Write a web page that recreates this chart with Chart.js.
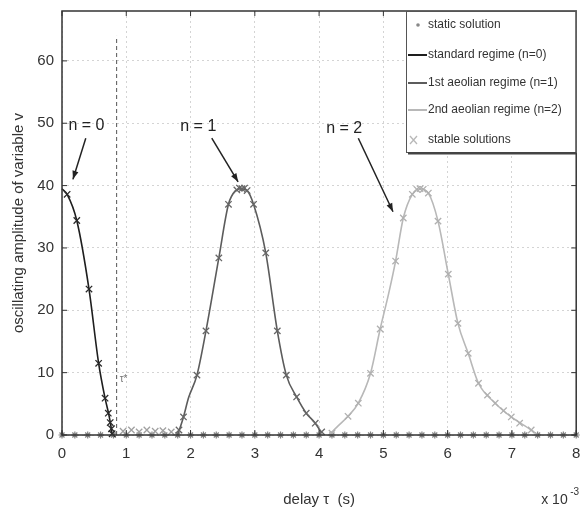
<!DOCTYPE html>
<html>
<head>
<meta charset="utf-8">
<script src="https://cdn.jsdelivr.net/npm/chart.js@4"></script>
<style>
  html, body { margin: 0; padding: 0; background: #fff; overflow: hidden; }
  #wrap { width: 580px; height: 510px; overflow: hidden; }
</style>
</head>
<body>
<div id="wrap"><canvas id="chart" width="582" height="510"></canvas></div>
<script>
'use strict';

// ── Data ─────────────────────────────────────────────────────
const xTicks = [0, 1, 2, 3, 4, 5, 6, 7, 8];
const yTicks = [0, 10, 20, 30, 40, 50, 60];

// static solution (v = 0) along the whole delay range
const staticX = [0, 0.2, 0.4, 0.6, 0.8, 1, 1.2, 1.4, 1.6, 1.8, 2, 2.2, 2.4, 2.6, 2.8, 3, 3.2, 3.4, 3.6, 3.8, 4,
    4.2, 4.4, 4.6, 4.8, 5, 5.2, 5.4, 5.6, 5.8, 6, 6.2, 6.4, 6.6, 6.8, 7, 7.2, 7.4, 7.6, 7.8, 8];

// standard regime (n=0)
const n0X = [0, 0.08, 0.23, 0.42, 0.57, 0.67, 0.73, 0.76, 0.78];
const n0Y = [39.5, 38.6, 34.4, 23.4, 11.5, 5.9, 3.2, 1.5, 0];

// 1st aeolian regime (n=1)
const n1X = [1.80, 1.89, 1.97, 2.10, 2.24, 2.44, 2.59, 2.70, 2.78, 2.88, 2.98, 3.17, 3.35, 3.49, 3.65, 3.80, 3.94, 4.04];
const n1Y = [0, 2.9, 6.0, 9.6, 16.7, 28.4, 37.0, 39.2, 39.5, 39.2, 37.0, 29.2, 16.7, 9.6, 6.1, 3.5, 1.9, 0.3];

// 2nd aeolian regime (n=2)
const n2X = [4.15, 4.30, 4.45, 4.61, 4.80, 4.95, 5.08, 5.19, 5.31, 5.45, 5.57, 5.70, 5.85, 6.01, 6.16, 6.32, 6.48, 6.74, 6.99, 7.30, 7.40];
const n2Y = [0, 1.5, 3.0, 5.1, 9.9, 17.0, 22.6, 27.9, 34.8, 38.6, 39.5, 38.8, 34.3, 25.8, 17.9, 13.1, 8.3, 5.1, 2.9, 0.8, 0];

// stable solutions (crosses)
const stable0X = [0.08, 0.23, 0.42, 0.57, 0.67, 0.72, 0.75, 0.77, 0.78];
const stable0Y = [38.6, 34.4, 23.4, 11.5, 5.9, 3.5, 2.0, 1.0, 0.2];
const stableZeroX = [0.95, 1.08, 1.2, 1.32, 1.45, 1.57, 1.7];
const stableZeroY = [0.6, 0.8, 0.5, 0.8, 0.6, 0.7, 0.5];
const stable1X = [1.82, 1.89, 2.10, 2.24, 2.44, 2.59, 2.72, 2.76, 2.80, 2.84, 2.88, 2.98, 3.17, 3.35, 3.49, 3.65, 3.80, 3.94, 4.04];
const stable1Y = [0.8, 2.9, 9.6, 16.7, 28.4, 37.0, 39.3, 39.6, 39.5, 39.6, 39.2, 37.0, 29.2, 16.7, 9.6, 6.1, 3.5, 1.9, 0.5];
const stable2X = [4.20, 4.45, 4.61, 4.80, 4.95, 5.19, 5.31, 5.45, 5.52, 5.57, 5.62, 5.70, 5.85, 6.01, 6.16, 6.32, 6.48, 6.62, 6.74, 6.87, 6.99, 7.12, 7.30];
const stable2Y = [0.3, 3.0, 5.1, 9.9, 17.0, 27.9, 34.8, 38.6, 39.4, 39.5, 39.4, 38.8, 34.3, 25.8, 17.9, 13.1, 8.3, 6.4, 5.1, 3.9, 2.9, 1.9, 0.8];

const legendLabels = ['static solution', 'standard regime (n=0)', '1st aeolian regime (n=1)', '2nd aeolian regime (n=2)', 'stable solutions'];

// annotations, in data units
const notes = [
    { text: 'n = 0', x: 0.38, y: 49.6, from: [0.37, 47.6], to: [0.17, 41.0] },
    { text: 'n = 1', x: 2.12, y: 49.5, from: [2.33, 47.6], to: [2.74, 40.6] },
    { text: 'n = 2', x: 4.39, y: 49.2, from: [4.61, 47.6], to: [5.15, 35.8] },
];
const tauStar = 0.85;

// ── Helpers ──────────────────────────────────────────────────
const pts = (xs, ys) => xs.map((x, i) => ({ x: x, y: ys[i] }));
const FONT = "'Liberation Sans', Arial, sans-serif";
const C_N0 = '#1e1e1e';
const C_N1 = '#5c5c5c';
const C_N2 = '#b8b8b8';

function lineSet(label, data, color) {
    return {
        label: label,
        data: data,
        showLine: true,
        borderColor: color,
        borderWidth: 1.6,
        pointRadius: 0,
        cubicInterpolationMode: 'monotone',
        clip: false,
    };
}

function crossSet(label, data, color) {
    return {
        label: label,
        data: data,
        showLine: false,
        pointStyle: 'crossRot',
        pointRadius: 4.5,
        pointBorderColor: color,
        pointBorderWidth: 1.3,
        clip: false,
    };
}

// ── Decorations: box, inward ticks, annotations, legend ──────
const decor = {
    id: 'decor',
    afterDatasetsDraw(chart) {
        const { ctx, chartArea: a, scales: { x, y } } = chart;
        ctx.save();

        // dashed tau* line
        ctx.strokeStyle = '#555';
        ctx.lineWidth = 1;
        ctx.setLineDash([4, 3]);
        ctx.beginPath();
        ctx.moveTo(x.getPixelForValue(tauStar), y.getPixelForValue(0));
        ctx.lineTo(x.getPixelForValue(tauStar), y.getPixelForValue(64));
        ctx.stroke();
        ctx.setLineDash([]);
        ctx.fillStyle = '#777';
        ctx.font = '10px ' + FONT;
        ctx.textAlign = 'left';
        ctx.textBaseline = 'middle';
        ctx.fillText('τ*', x.getPixelForValue(tauStar) + 3, y.getPixelForValue(9));

        // axes box
        ctx.strokeStyle = '#333';
        ctx.lineWidth = 1.5;
        ctx.strokeRect(a.left, a.top, a.right - a.left, a.bottom - a.top);

        // inward ticks
        ctx.lineWidth = 1;
        ctx.beginPath();
        xTicks.forEach(v => {
            const px = x.getPixelForValue(v);
            ctx.moveTo(px, a.bottom); ctx.lineTo(px, a.bottom - 5);
            ctx.moveTo(px, a.top); ctx.lineTo(px, a.top + 5);
        });
        yTicks.forEach(v => {
            const py = y.getPixelForValue(v);
            ctx.moveTo(a.left, py); ctx.lineTo(a.left + 5, py);
            ctx.moveTo(a.right, py); ctx.lineTo(a.right - 5, py);
        });
        ctx.stroke();

        // n = ... labels with arrows
        ctx.fillStyle = '#222';
        ctx.strokeStyle = '#222';
        ctx.font = '16px ' + FONT;
        ctx.textAlign = 'center';
        notes.forEach(n => {
            ctx.fillText(n.text, x.getPixelForValue(n.x), y.getPixelForValue(n.y));
            const x1 = x.getPixelForValue(n.from[0]), y1 = y.getPixelForValue(n.from[1]);
            const x2 = x.getPixelForValue(n.to[0]), y2 = y.getPixelForValue(n.to[1]);
            const ang = Math.atan2(y2 - y1, x2 - x1);
            ctx.lineWidth = 1.5;
            ctx.beginPath();
            ctx.moveTo(x1, y1);
            ctx.lineTo(x2, y2);
            ctx.stroke();
            ctx.beginPath();
            ctx.moveTo(x2, y2);
            ctx.lineTo(x2 - 9 * Math.cos(ang - 0.35), y2 - 9 * Math.sin(ang - 0.35));
            ctx.lineTo(x2 - 9 * Math.cos(ang + 0.35), y2 - 9 * Math.sin(ang + 0.35));
            ctx.closePath();
            ctx.fill();
        });

        // exponent label
        ctx.fillStyle = '#333';
        ctx.font = '14px ' + FONT;
        ctx.textAlign = 'left';
        ctx.fillText('x 10', a.right - 35, a.bottom + 65);
        ctx.font = '10px ' + FONT;
        ctx.fillText('-3', a.right - 6, a.bottom + 57);

        // legend
        const lx = 406, ly = a.top, lw = a.right - lx, lh = 142;
        ctx.fillStyle = '#fff';
        ctx.fillRect(lx, ly, lw, lh);
        ctx.strokeStyle = '#555';
        ctx.lineWidth = 1;
        ctx.strokeRect(lx + 0.5, ly + 0.5, lw - 1, lh - 1);
        ctx.fillStyle = '#444';
        ctx.fillRect(lx + 2, ly + lh - 1, lw - 2, 2.5);

        const rows = [25, 55, 83, 110, 140];
        const sample = [null, C_N0, C_N1, C_N2, null];
        ctx.font = '12px ' + FONT;
        ctx.textBaseline = 'middle';
        legendLabels.forEach((t, i) => {
            const ry = rows[i];
            if (sample[i]) {
                ctx.strokeStyle = sample[i];
                ctx.lineWidth = 2;
                ctx.beginPath();
                ctx.moveTo(lx + 2, ry); ctx.lineTo(lx + 21, ry);
                ctx.stroke();
            } else if (i === 0) {
                ctx.fillStyle = '#888';
                ctx.beginPath();
                ctx.arc(lx + 12, ry, 1.8, 0, Math.PI * 2);
                ctx.fill();
            } else {
                ctx.strokeStyle = C_N2;
                ctx.lineWidth = 1.3;
                ctx.beginPath();
                ctx.moveTo(lx + 4, ry - 4); ctx.lineTo(lx + 11, ry + 4);
                ctx.moveTo(lx + 11, ry - 4); ctx.lineTo(lx + 4, ry + 4);
                ctx.stroke();
            }
            ctx.fillStyle = '#333';
            ctx.fillText(t, lx + 22, ry);
        });

        ctx.restore();
    }
};

// ── Chart ─────────────────────────────────────────────────────
const canvas = document.getElementById('chart');

new Chart(canvas, {
    type: 'scatter',
    data: {
        datasets: [
            crossSet('stable n0', pts(stable0X, stable0Y), '#2a2a2a'),
            crossSet('stable zero', pts(stableZeroX, stableZeroY), '#a0a0a0'),
            crossSet('stable n1', pts(stable1X, stable1Y), '#666'),
            crossSet('stable n2', pts(stable2X, stable2Y), '#b0b0b0'),
            lineSet(legendLabels[1], pts(n0X, n0Y), C_N0),
            lineSet(legendLabels[2], pts(n1X, n1Y), C_N1),
            lineSet(legendLabels[3], pts(n2X, n2Y), C_N2),
            {
                label: legendLabels[0],
                data: staticX.map(v => ({ x: v, y: 0 })),
                showLine: false,
                pointStyle: 'star',
                pointRadius: 3.5,
                pointBorderColor: '#808080',
                pointBorderWidth: 1.2,
                clip: false,
            },
        ],
    },
    options: {
        responsive: false,
        animation: false,
        devicePixelRatio: 1,
        layout: { padding: { left: 0, top: 11, right: 0, bottom: 0 } },
        plugins: {
            legend: { display: false },
            tooltip: { enabled: false },
        },
        scales: {
            x: {
                type: 'linear',
                min: 0,
                max: 8,
                afterBuildTicks: s => { s.ticks = xTicks.map(v => ({ value: v })); },
                afterFit: s => { s.height = 75; s.paddingLeft = 0; s.paddingRight = 0; },
                grid: { color: '#d4d4d4', drawTicks: false },
                border: { display: false, dash: [2, 3] },
                ticks: { color: '#333', padding: 10, font: { family: FONT, size: 15 } },
                title: {
                    display: true,
                    text: 'delay τ  (s)',
                    color: '#333',
                    font: { family: FONT, size: 15 },
                    padding: { top: 0, bottom: 1 },
                },
            },
            y: {
                type: 'linear',
                min: 0,
                max: 68,
                afterBuildTicks: s => { s.ticks = yTicks.map(v => ({ value: v })); },
                afterFit: s => { s.width = 62; s.paddingTop = 0; s.paddingBottom = 0; },
                grid: { color: '#d4d4d4', drawTicks: false },
                border: { display: false, dash: [2, 3] },
                ticks: { color: '#333', padding: 8, font: { family: FONT, size: 15 } },
                title: {
                    display: true,
                    text: 'oscillating amplitude of variable v',
                    color: '#333',
                    font: { family: FONT, size: 15 },
                    padding: { top: 10, bottom: 0 },
                },
            },
        },
    },
    plugins: [decor],
});
</script>
</body>
</html>
